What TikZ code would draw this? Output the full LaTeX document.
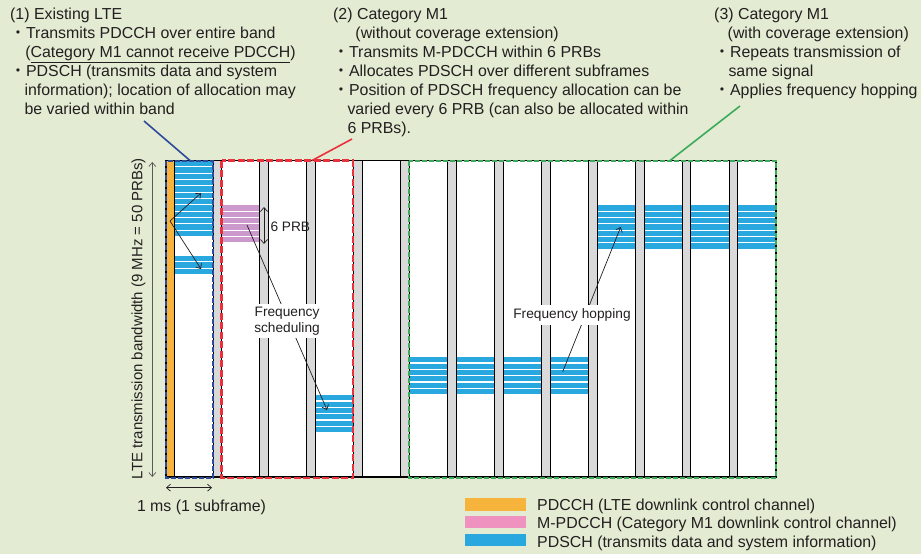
\documentclass[tikz,border=0pt]{standalone}
\usepackage{fontspec}
\setmainfont{Liberation Sans}
\newfontfamily\cjk{Noto Sans CJK JP}
\usetikzlibrary{arrows.meta}

\definecolor{fondo}{RGB}{227,235,211}
\definecolor{pdcch}{RGB}{246,180,60}
\definecolor{mpdcch}{RGB}{204,153,204}
\definecolor{mpdcchley}{RGB}{240,146,192}
\definecolor{pdsch}{RGB}{41,168,224}
\definecolor{ctrl}{RGB}{217,217,217}
\definecolor{azul}{RGB}{46,75,155}
\definecolor{rojo}{RGB}{234,50,60}
\definecolor{verde}{RGB}{60,170,90}
\definecolor{tinta}{RGB}{35,31,32}

\newcommand{\pto}{{\cjk ・}}

\tikzset{
  texto/.style={font=\fontsize{15.9}{19}\selectfont, text=tinta, inner sep=0pt, align=left},
  etiq/.style={font=\fontsize{13.7}{16}\selectfont, text=tinta},
  caja/.style={line width=2pt, dash pattern=on 5pt off 2pt},
  flecha/.style={line width=0.7pt, tinta},
}

\begin{document}
\begin{tikzpicture}[x=1pt, y=-1pt, >={Straight Barb[length=4pt,width=7pt]}]
	\fill[fondo] (0,0) rectangle (921,554);
	\fill[white] (166,160.5) rectangle (776,477);
	
	% bloques de PRB: subtrama / primer PRB / numero de PRB / color
	\foreach \k/\p/\n/\c in {0/0/12/pdsch, 0/15/3/pdsch, 1/7/6/mpdcch, 3/37/6/pdsch,
		5/31/6/pdsch, 6/31/6/pdsch, 7/31/6/pdsch, 8/31/6/pdsch,
		9/7/7/pdsch, 10/7/7/pdsch, 11/7/7/pdsch, 12/7/7/pdsch} {
		\foreach \i in {1,...,\n} {
			\fill[\c] ({174.7+\k*46.92},{160.5+(\p+\i-1)*6.33+0.6}) rectangle ({166+(\k+1)*46.92},{160.5+(\p+\i)*6.33-0.6});
		}
	}
	
	% region de control de cada subtrama
	\filldraw[fill=pdcch, draw=black, line width=0.8pt] (166,160.5) rectangle (174.7,477);
	\foreach \k in {1,...,12} {
		\filldraw[fill=ctrl, draw=black, line width=0.8pt] ({166+\k*46.92},160.5) rectangle ({174.7+\k*46.92},477);
	}
	\draw[line width=1.3pt] (166,160.5) rectangle (776,477);
	
	% cajas discontinuas
	\draw[caja, azul] (166,160.5) rectangle (212.5,478);
	\draw[caja, rojo, line width=2.3pt, dash pattern=on 7pt off 2.5pt] (221.6,160.5) rectangle (352.7,478);
	\draw[caja, verde] (409.3,160.5) rectangle (776,478);
	
	% textos de arriba
	\node[texto, anchor=north west] (lte) at (10,7.7) {(1) Existing LTE\\
		\pto Transmits PDCCH over entire band\\
		\hspace*{0.95em}(\underline{Category M1 cannot receive PDCCH})\\
		\pto PDSCH (transmits data and system\\
		\hspace*{0.9em}information); location of allocation may\\
		\hspace*{0.9em}be varied within band};
	\node[texto, anchor=north west] (catm) at (333,7.7) {(2) Category M1\\
		\hspace*{1.4em}(without coverage extension)\\
		\pto Transmits M-PDCCH within 6 PRBs\\
		\pto Allocates PDSCH over different subframes\\
		\pto Position of PDSCH frequency allocation can be\\
		\hspace*{0.9em}varied every 6 PRB (can also be allocated within\\
		\hspace*{0.9em}6 PRBs).};
	\node[texto, anchor=north west] (cext) at (714,7.7) {(3) Category M1\\
		\hspace*{0.85em}(with coverage extension)\\
		\pto Repeats transmission of\\
		\hspace*{0.9em}same signal\\
		\pto Applies frequency hopping};
	
	\coordinate (ltePie) at (144,121);
	\coordinate (lteCaja) at (190,160.5);
	\coordinate (catmPie) at (352,139);
	\coordinate (catmCaja) at (312,160.5);
	\coordinate (cextPie) at (740,106);
	\coordinate (cextCaja) at (670,160.5);
	\draw[azul, line width=1.6pt] (ltePie) -- (lteCaja);
	\draw[rojo, line width=1.6pt] (catmPie) -- (catmCaja);
	\draw[verde, line width=1.6pt] (cextPie) -- (cextCaja);
	
	% flechas dentro de la primera subtrama
	\coordinate (vert) at (170,221);
	\coordinate (pdschA) at (201,193);
	\coordinate (pdschB) at (201,269);
	\draw[flecha, ->] (vert) -- (pdschA);
	\draw[flecha, ->] (vert) -- (pdschB);
	
	\coordinate (prbA) at (264,207);
	\coordinate (prbB) at (264,244);
	\draw[flecha, <->] (prbA) -- (prbB);
	\node[etiq, anchor=west] (seis) at (267,227) {6 PRB};
	
	% planificacion en frecuencia
	\coordinate (mpd) at (247,225);
	\coordinate (sched) at (327,410);
	\draw[flecha, ->] (mpd) -- (sched);
	\node[etiq, fill=white, align=center, inner sep=3pt] (planif) at (287,321) {Frequency\\scheduling};
	
	% salto de frecuencia
	\coordinate (saltoA) at (562.7,371.7);
	\coordinate (saltoB) at (620.7,227);
	\draw[flecha, ->] (saltoA) -- (saltoB);
	\node[etiq, fill=white, anchor=base, inner sep=3.5pt] (salto) at (572,318.3) {Frequency hopping};
	
	% ejes
	\coordinate (ejeA) at (152.3,162);
	\coordinate (ejeB) at (152.3,477);
	\draw[line width=0.7pt, black!65, <->] (ejeA) -- (ejeB);
	\node[texto, font=\fontsize{15}{18}\selectfont, rotate=90] (ancho) at (138.5,318.5) {LTE transmission bandwidth (9 MHz = 50 PRBs)};
	
	\coordinate (msA) at (166,487.7);
	\coordinate (msB) at (212,487.7);
	\draw[flecha, <->] (msA) -- (msB);
	\node[texto, anchor=base] (ms) at (201.5,511) {1 ms (1 subframe)};
	
	% leyenda
	\foreach \c/\t [count=\i] in {pdcch/PDCCH (LTE downlink control channel),
		mpdcchley/M-PDCCH (Category M1 downlink control channel),
		pdsch/PDSCH (transmits data and system information)} {
		\fill[\c] (465,{498.3+(\i-1)*17.6}) rectangle (525.7,{510.7+(\i-1)*17.6});
		\node[texto, anchor=base west] (ley\i) at (537,{510.6+(\i-1)*18.2}) {\t};
	}
\end{tikzpicture}
\end{document}
